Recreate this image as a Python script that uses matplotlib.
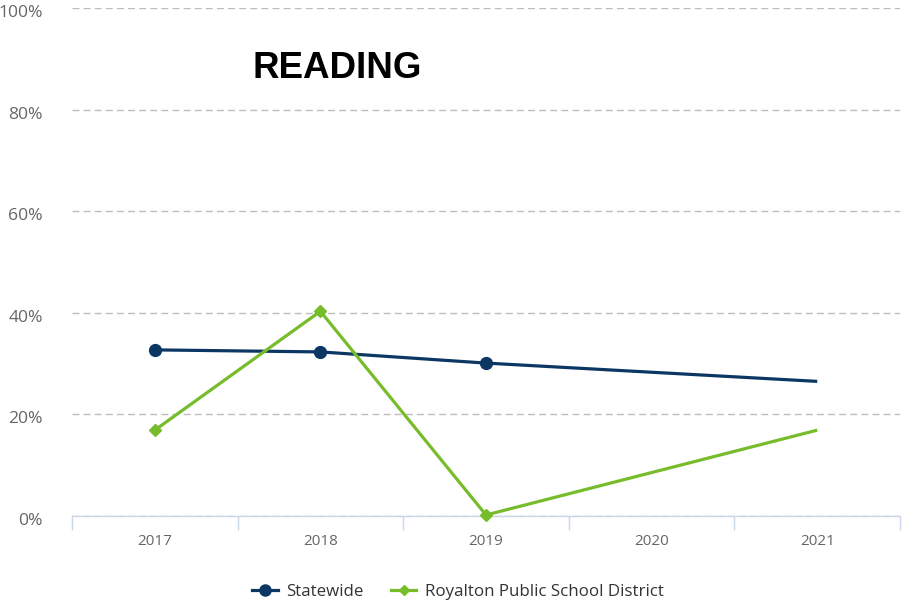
import matplotlib
import numpy as np

matplotlib.use("Agg")
import matplotlib.pyplot as plt
import matplotlib.transforms as mtransforms
from matplotlib.lines import Line2D

years = ["2017", "2018", "2019", "2020", "2021"]
statewide = [32.7, 32.3, 30.1, np.nan, 26.5]
royalton = [16.9, 40.3, 0.2, np.nan, 16.9]
# the 2021 points are drawn without a marker in the source chart
marked_years = ["2017", "2018", "2019"]

NAVY = "#0c3763"
GREEN = "#77bc2b"
GRID = "#bdbdbd"
AXIS = "#ccd6eb"
LABEL = "#666666"

plt.rcParams["font.family"] = ["Open Sans", "DejaVu Sans"]

fig = plt.figure(figsize=(9.03, 6.06), dpi=100)
ax = fig.add_axes([72 / 903, 1 - 516 / 606, 828 / 903, 508 / 606])

x_all = np.arange(len(years))


def draw_series(values, color, marker, msize):
    vals = np.array(values, dtype=float)
    ok = ~np.isnan(vals)
    xs = x_all[ok]
    ys = vals[ok]
    marks = [i for i, x in enumerate(xs) if years[x] in marked_years]
    ax.plot(xs, ys, color=color, lw=2.3, marker=marker, ms=msize,
            markevery=marks, solid_capstyle="butt", zorder=3, clip_on=False)


draw_series(statewide, NAVY, "o", 8.5)
draw_series(royalton, GREEN, "D", 6)

ax.set_xlim(-0.5, len(years) - 0.5)
ax.set_ylim(0, 100)

ax.set_yticks(np.arange(0, 101, 20))
ax.set_yticklabels([f"{v}%" for v in range(0, 101, 20)])
ax.tick_params(axis="y", length=0, pad=21, labelsize=12.6, labelcolor=LABEL)
ax.yaxis.grid(True, color=GRID, linestyle=(0, (5, 3)), lw=1)
# labels sit a touch below their gridlines in the original
shift = mtransforms.ScaledTranslation(0, -3 / 100, fig.dpi_scale_trans)
for lbl in ax.get_yticklabels():
    lbl.set_transform(lbl.get_transform() + shift)

ax.set_xticks(x_all)
ax.set_xticklabels(years)
ax.tick_params(axis="x", which="major", length=0, pad=13, labelsize=11,
               labelcolor=LABEL)
ax.set_xticks(np.arange(-0.5, len(years)), minor=True)
ax.tick_params(axis="x", which="minor", length=10, width=1, color=AXIS)

for side in ("top", "right", "left"):
    ax.spines[side].set_visible(False)
ax.spines["bottom"].set_color(AXIS)
ax.spines["bottom"].set_linewidth(1)
ax.set_axisbelow(True)

fig.text(337 / 903, 1 - 68 / 606, "READING", family=["Liberation Sans", "DejaVu Sans"],
         fontsize=26.5, fontweight="bold", ha="center", va="center", color="black")

handles = [
    Line2D([], [], color=NAVY, lw=2.3, marker="o", ms=8),
    Line2D([], [], color=GREEN, lw=2.3, marker="D", ms=5.5),
]
fig.legend(handles, ["Statewide", "Royalton Public School District"],
           loc="center", bbox_to_anchor=(458 / 903, 1 - 592 / 606), ncol=2,
           frameon=False, fontsize=12.2, handlelength=1.5, handletextpad=0.5,
           columnspacing=1.6, labelcolor="#333333")

fig.savefig("out.png", dpi=100, facecolor="white")
